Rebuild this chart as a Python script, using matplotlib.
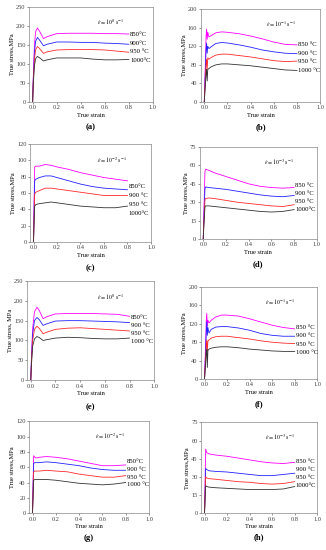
import matplotlib
matplotlib.use('Agg')
from matplotlib import pyplot as plt

plt.rcParams['font.family'] = ['Liberation Serif', 'DejaVu Serif']
plt.rcParams['mathtext.fontset'] = 'stix'

# temperatures and colours of the curves
temps = ['850', '900', '950', '1000']
colors = ['#ff00ff', '#2222ff', '#ff2a2a', '#333333']

# (a) 10^0 s^-1
strain_a = [0, 0.005, 0.015, 0.025, 0.04, 0.06, 0.09, 0.12, 0.2, 0.3, 0.4, 0.5, 0.6, 0.7, 0.8]
a850 = [0, 60, 150, 185, 195, 185, 167, 172, 180, 181, 181, 181, 180, 180, 179]
a900 = [0, 55, 130, 160, 170, 162, 148, 152, 158, 158, 157, 157, 155, 154, 152]
a950 = [0, 50, 112, 138, 146, 140, 128, 132, 137, 138, 138, 138, 137, 134, 131]
a1000 = [0, 45, 95, 114, 120, 116, 108, 111, 116, 116, 116, 113, 111, 111, 112]

# (b) 10^-1 s^-1
strain_b = [0, 0.01, 0.015, 0.02, 0.025, 0.03, 0.04, 0.06, 0.1, 0.15, 0.2, 0.3, 0.4, 0.5, 0.6, 0.7, 0.8]
b850 = [0, 90, 140, 157, 135, 150, 140, 143, 149, 151, 150, 147, 142, 136, 129, 124, 123]
b900 = [0, 70, 110, 127, 105, 120, 115, 119, 126, 128, 127, 123, 118, 112, 108, 105, 104]
b950 = [0, 55, 80, 92, 70, 95, 92, 96, 101, 103, 103, 100, 97, 93, 89, 87, 88]
b1000 = [0, 40, 60, 70, 45, 70, 72, 76, 80, 82, 82, 80, 78, 75, 72, 69, 68]

# (c) 10^-2 s^-1
strain_c = [0, 0.005, 0.01, 0.02, 0.05, 0.1, 0.15, 0.2, 0.3, 0.4, 0.5, 0.6, 0.7, 0.8]
c850 = [0, 50, 92, 93, 93, 95, 94, 92, 89, 85, 82, 79, 77, 75]
c900 = [0, 40, 75, 77, 79, 81, 81, 79, 75, 71, 68, 66, 65, 64]
c950 = [0, 30, 59, 61, 63, 66, 66, 65, 63, 61, 59, 57, 57, 57]
c1000 = [0, 25, 44, 46, 47, 48, 49, 48, 46, 44, 43, 42, 42, 44]

# (d) 10^-3 s^-1
strain_d = [0, 0.005, 0.015, 0.02, 0.05, 0.1, 0.2, 0.3, 0.4, 0.5, 0.6, 0.7, 0.8]
d850 = [0, 20, 55, 57, 56, 54, 51, 48, 45, 43, 42, 41.5, 42]
d900 = [0, 15, 41, 42.5, 42, 41.5, 40.5, 39, 37.5, 36, 35, 34.5, 35.5]
d950 = [0, 12, 32, 33, 33.5, 33, 31.5, 30, 29, 28, 27, 26.5, 28]
d1000 = [0, 10, 26, 27, 27, 26.5, 25.5, 24.5, 23.5, 22.5, 22, 22.5, 24]

# (e) 10^0 s^-1
strain_e = [0, 0.005, 0.015, 0.03, 0.05, 0.07, 0.1, 0.13, 0.2, 0.3, 0.4, 0.5, 0.6, 0.7, 0.8]
e850 = [0, 50, 130, 172, 184, 175, 155, 160, 167, 168, 168, 168, 167, 166, 161]
e900 = [0, 45, 115, 150, 158, 152, 138, 142, 149, 150, 150, 149, 148, 147, 145]
e950 = [0, 40, 100, 128, 136, 130, 117, 121, 128, 131, 132, 130, 128, 126, 124]
e1000 = [0, 35, 85, 104, 110, 107, 100, 102, 106, 108, 107, 105, 104, 104, 106]

# (f) 10^-1 s^-1
strain_f = [0, 0.01, 0.015, 0.02, 0.025, 0.03, 0.04, 0.06, 0.1, 0.15, 0.2, 0.3, 0.4, 0.5, 0.6, 0.7, 0.8]
f850 = [0, 80, 125, 143, 115, 128, 122, 128, 135, 139, 139, 137, 131, 124, 117, 112, 109]
f900 = [0, 60, 100, 125, 95, 112, 100, 108, 113, 114, 114, 111, 106, 99, 95, 93, 93]
f950 = [0, 45, 70, 85, 60, 82, 85, 89, 92, 93, 93, 90, 87, 83, 80, 78, 77]
f1000 = [0, 35, 55, 65, 25, 62, 65, 67, 69, 70, 70, 68, 65, 63, 61, 60, 60]

# (g) 10^-2 s^-1
strain_g = [0, 0.005, 0.01, 0.02, 0.03, 0.06, 0.12, 0.2, 0.3, 0.4, 0.5, 0.6, 0.7, 0.8]
g850 = [0, 40, 75, 73, 72, 73, 74, 73, 71, 68, 65, 62, 62, 63]
g900 = [0, 35, 65, 66, 66, 66, 67, 66, 64, 62, 59, 57, 56, 56]
g950 = [0, 28, 54, 55, 55, 55, 56, 55, 54, 51, 49, 47, 47, 49]
g1000 = [0, 22, 43, 44, 44, 44, 44, 43, 41, 39, 38, 37, 38, 40]

# (h) 10^-3 s^-1
strain_h = [0, 0.005, 0.01, 0.02, 0.04, 0.1, 0.2, 0.3, 0.4, 0.5, 0.6, 0.7, 0.8]
h850 = [0, 25, 53, 50, 49, 48, 47, 45.5, 44, 42.5, 41.5, 41, 42]
h900 = [0, 18, 37, 36, 35, 34.5, 34, 33, 32, 31, 31, 32, 33]
h950 = [0, 15, 30, 29, 28.5, 28, 27, 26, 25.5, 24.5, 24, 24.5, 26]
h1000 = [0, 11, 22.5, 22, 21.5, 21, 20.5, 20, 19.5, 19.5, 19.5, 20, 22]

panels = [
    ('a', strain_a, [a850, a900, a950, a1000], 250, 50, '0', ['850°C', '900°C', '950 °C', '1000°C'],
     [0.71, 0.62, 0.53, 0.44], [0.089, 0.8145, 0.380, 0.1727], 'True stress,MPa'),
    ('b', strain_b, [b850, b900, b950, b1000], 200, 40, '-1', ['850 °C', '900 °C', '950 °C', '1000 °C'],
     [0.62, 0.525, 0.435, 0.34], [0.616, 0.8145, 0.366, 0.169], 'True stress,MPa'),
    ('c', strain_c, [c850, c900, c950, c1000], 120, 20, '-2', ['850°C', '900 °C', '950 °C', '1000°C'],
     [0.57, 0.47, 0.38, 0.29], [0.092, 0.56, 0.371, 0.178], 'True stress,MPa'),
    ('d', strain_d, [d850, d900, d950, d1000], 75, 15, '-3', ['850 °C', '900 °C', '950 °C', '1000°C'],
     [0.58, 0.49, 0.41, 0.32], [0.613, 0.5655, 0.359, 0.167], 'True stress,MPa'),
    ('e', strain_e, [e850, e900, e950, e1000], 250, 50, '0', ['850°C', '900 °C', '950 °C', '1000 °C'],
     [0.63, 0.55, 0.47, 0.39], [0.083, 0.309, 0.39, 0.18], 'True stress, MPa'),
    ('f', strain_f, [f850, f900, f950, f1000], 200, 40, '-1', ['850 °C', '900 °C', '950 °C', '1000 °C'],
     [0.56, 0.47, 0.38, 0.29], [0.617, 0.311, 0.356, 0.167], 'True stress,MPa'),
    ('g', strain_g, [g850, g900, g950, g1000], 120, 20, '-2', ['850°C', '900 °C', '950 °C', '1000 °C'],
     [0.56, 0.48, 0.39, 0.31], [0.089, 0.067, 0.368, 0.167], 'True stress,MPa'),
    ('h', strain_h, [h850, h900, h950, h1000], 75, 15, '-3', ['850 °C', '900 °C', '950 °C', '1000°C'],
     [0.57, 0.48, 0.39, 0.30], [0.617, 0.067, 0.356, 0.165], 'True stress,MPa'),
]

fig = plt.figure(figsize=(3.26, 5.5), dpi=100)

for name, strain, curves, ymax, ystep, rate, labels, label_y, pos, ylab in panels:
    ax = fig.add_axes(pos)
    for stress, col in zip(curves, colors):
        ax.plot(strain, stress, color=col, lw=0.6)
    ax.set_xlim(-0.03, 1.0)
    ax.set_ylim(0, ymax)
    ax.set_xticks([0, 0.2, 0.4, 0.6, 0.8, 1.0])
    ax.set_yticks(range(0, ymax + 1, ystep))
    ax.tick_params(labelsize=4.6, length=1.5, width=0.4, pad=1, colors='#444444')
    for sp in ax.spines.values():
        sp.set_linewidth(0.5)
        sp.set_color('#888888')
    ax.set_xlabel('True strain', fontsize=4.6, labelpad=1.5)
    ax.set_ylabel(ylab, fontsize=4.6, labelpad=1.5)
    # temperature labels right of the curve ends
    for txt, yy in zip(labels, label_y):
        ax.text(0.815, yy, txt, transform=ax.transAxes, fontsize=4.8, va='center')
    ax.text(0.55, 0.84, r'$\dot{\varepsilon}=10^{%s}\ \mathrm{s}^{-1}$' % rate, transform=ax.transAxes,
            fontsize=4.2, va='center')
    ax.text(0.5, -0.27, '(%s)' % name, transform=ax.transAxes, fontsize=6.2, fontweight='bold',
            ha='center', va='center')

fig.savefig('out.png', dpi=100)
